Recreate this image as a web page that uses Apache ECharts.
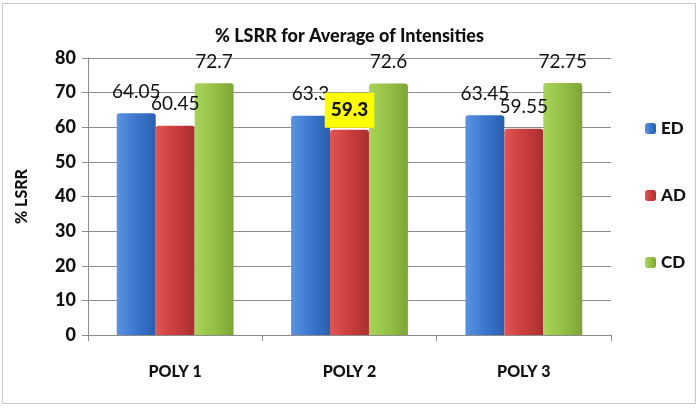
<!DOCTYPE html>
<html>
<head>
<meta charset="utf-8">
<script src="https://cdn.jsdelivr.net/npm/echarts@6/dist/echarts.min.js"></script>
<style>
  html, body { margin: 0; padding: 0; background: #fff; }
  #chart { width: 699px; height: 411px; }
  #frame { position: absolute; left: 2px; top: 3px; width: 692px; height: 399px; border: 1px solid #c8c8c8; pointer-events: none; }
</style>
</head>
<body>
<div id="chart"></div>
<div id="frame"></div>
<script>
  var categories = ['POLY 1', 'POLY 2', 'POLY 3'];
  var edValues = [64.05, 63.3, 63.45];
  var adValues = [60.45, 59.3, 59.55];
  var cdValues = [72.7, 72.6, 72.75];
  var yTicks = [0, 10, 20, 30, 40, 50, 60, 70, 80];

  var fontFamily = 'Lato, "Open Sans", sans-serif';
  var heavy = 900;

  function barGradient (light, mid, dark) {
    return new echarts.graphic.LinearGradient(0, 0, 1, 0, [
      { offset: 0, color: light },
      { offset: 0.5, color: mid },
      { offset: 1, color: dark }
    ]);
  }

  var labelStyle = {
    show: true,
    position: 'top',
    distance: 12,
    color: '#111',
    fontSize: 19,
    fontFamily: fontFamily
  };

  function makeSeries (name, values, colors, highlight) {
    var data = values.map(function (v, i) {
      if (highlight === i) {
        return {
          value: v,
          label: {
            backgroundColor: '#ffff00',
            fontWeight: heavy,
            padding: [8, 6, 8, 6],
            distance: 2
          }
        };
      }
      return v;
    });
    return {
      name: name,
      type: 'bar',
      data: data,
      barGap: '0%',
      barCategoryGap: '33%',
      itemStyle: {
        color: barGradient(colors[0], colors[1], colors[2]),
        borderRadius: [3, 3, 0, 0]
      },
      label: labelStyle
    };
  }

  var chart = echarts.init(document.getElementById('chart'));
  chart.setOption({
    animation: false,
    title: {
      text: '% LSRR for Average of Intensities',
      left: 'center',
      top: 22,
      textStyle: { fontSize: 18, fontWeight: heavy, color: '#111', fontFamily: fontFamily }
    },
    legend: {
      orient: 'vertical',
      left: 640,
      top: 115,
      itemGap: 50,
      itemWidth: 11,
      itemHeight: 11,
      textStyle: { fontSize: 17, fontWeight: heavy, color: '#111', fontFamily: fontFamily },
      data: ['ED', 'AD', 'CD']
    },
    grid: { left: 88, right: 88, top: 58, bottom: 76 },
    xAxis: {
      type: 'category',
      data: categories,
      axisLine: { lineStyle: { color: '#8c8c8c' } },
      axisTick: { show: true, length: 6, lineStyle: { color: '#8c8c8c' } },
      axisLabel: { margin: 29, fontSize: 16, fontWeight: heavy, color: '#111', fontFamily: fontFamily }
    },
    yAxis: {
      type: 'value',
      min: yTicks[0],
      max: yTicks[yTicks.length - 1],
      interval: 10,
      name: '% LSRR',
      nameLocation: 'middle',
      nameGap: 58,
      nameTextStyle: { fontSize: 16, fontWeight: heavy, color: '#111', fontFamily: fontFamily },
      axisLine: { show: true, lineStyle: { color: '#8c8c8c' } },
      axisTick: { show: true, length: 6, lineStyle: { color: '#8c8c8c' } },
      axisLabel: { margin: 12, fontSize: 18, fontWeight: heavy, color: '#111', fontFamily: fontFamily },
      splitLine: { lineStyle: { color: '#8c8c8c' } }
    },
    series: [
      makeSeries('ED', edValues, ['#5a93e0', '#3b76cf', '#2a5fae']),
      makeSeries('AD', adValues, ['#e05555', '#cc3d3d', '#a83030'], 1),
      makeSeries('CD', cdValues, ['#a9d45a', '#95c046', '#7da436'])
    ]
  });
</script>
</body>
</html>
